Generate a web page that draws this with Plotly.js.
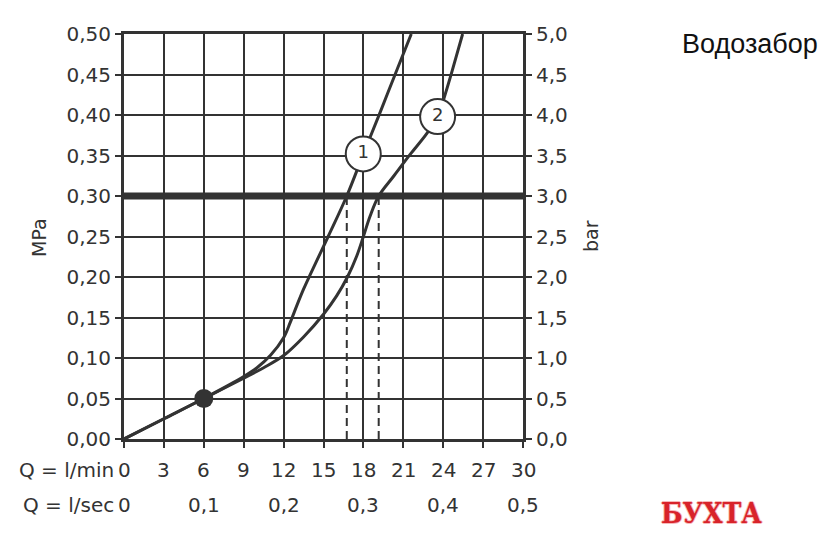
<!DOCTYPE html>
<html>
<head>
<meta charset="utf-8">
<script src="https://cdn.plot.ly/plotly-3.0.1.min.js"></script>
<style>html,body{margin:0;padding:0;background:#fff;}#chart{width:840px;height:546px;}</style>
</head>
<body>
<div id="chart"></div>
<script>
// ---- data ----
const qRange = [0, 30];
const mpaRange = [0, 0.5];
const barRange = [0, 5];
const qMinTicks = [0, 3, 6, 9, 12, 15, 18, 21, 24, 27, 30];
const qMinTickText = ['0', '3', '6', '9', '12', '15', '18', '21', '24', '27', '30'];
const qSecTickPos = [0, 6, 12, 18, 24, 30];
const qSecTickText = ['0', '0,1', '0,2', '0,3', '0,4', '0,5'];
const mpaTicks = [0, 0.05, 0.10, 0.15, 0.20, 0.25, 0.30, 0.35, 0.40, 0.45, 0.50];
const barTicks = [0, 0.5, 1.0, 1.5, 2.0, 2.5, 3.0, 3.5, 4.0, 4.5, 5.0];

// curve 1 (flow l/min, pressure MPa)
const curve1Q = [0, 3, 6, 9, 10, 11, 12, 12.5, 13, 13.5, 14, 15.35, 16.75, 18.0, 19.25, 20.6, 21.6];
const curve1P = [0, 0.025, 0.05, 0.077, 0.088, 0.103, 0.125, 0.144, 0.165, 0.185, 0.203, 0.25, 0.3, 0.352, 0.403, 0.459, 0.5];
// curve 2
const curve2Q = [0, 3, 6, 9, 10.5, 12, 13.5, 15.0, 16.0, 16.8, 17.5, 18.0, 18.5, 19.15, 20.3, 21.5, 22.76, 23.58, 24.14, 24.63, 25.46];
const curve2P = [0, 0.025, 0.05, 0.075, 0.088, 0.103, 0.126, 0.154, 0.177, 0.2, 0.226, 0.25, 0.275, 0.3, 0.325, 0.351, 0.377, 0.398, 0.425, 0.452, 0.5];

// reference pressure line and its crossings
const refPressure = 0.30;
const crossQ = [16.75, 19.15];

// common point
const dotQ = [6];
const dotP = [0.05];

// curve labels
const labelQ = [17.99, 23.58];
const labelP = [0.352, 0.398];
const labelText = ['1', '2'];

const chartTitle = 'Водозабор';
const logoText = 'БУХТА';

// ---- drawing ----
const ink = '#333333';
const font = 'DejaVu Sans, sans-serif';

const traces = [];
traces.push({x: qRange, y: [refPressure, refPressure], mode: 'lines',
  line: {color: ink, width: 7}, hoverinfo: 'skip', showlegend: false});
crossQ.forEach(q => traces.push({x: [q, q], y: [mpaRange[0], refPressure], mode: 'lines',
  line: {color: ink, width: 2, dash: '8px,5px'}, hoverinfo: 'skip', showlegend: false}));
traces.push({x: curve1Q, y: curve1P, mode: 'lines', line: {color: ink, width: 3, shape: 'spline', smoothing: 1}, showlegend: false});
traces.push({x: curve2Q, y: curve2P, mode: 'lines', line: {color: ink, width: 3, shape: 'spline', smoothing: 1}, showlegend: false});
traces.push({x: dotQ, y: dotP, mode: 'markers', marker: {color: ink, size: 19}, showlegend: false});
traces.push({x: labelQ, y: labelP, mode: 'markers+text', text: labelText, textposition: 'middle center',
  textfont: {family: font, size: 18, color: ink},
  marker: {color: '#ffffff', size: 35, line: {color: ink, width: 2}}, showlegend: false});
// dummy trace for right axis
traces.push({x: [qRange[0]], y: [barRange[0]], yaxis: 'y2', mode: 'markers', marker: {opacity: 0}, hoverinfo: 'skip', showlegend: false});

const L = 124, R = 523, T = 34, B = 439;
const px = v => (v - L) / (R - L);
const py = v => (B - v) / (B - T);

const annotations = [];
qMinTicks.forEach((q, i) => annotations.push({x: q, xref: 'x', y: py(470), yref: 'paper',
  text: qMinTickText[i], showarrow: false, xanchor: 'center', yanchor: 'middle',
  font: {family: font, size: 20, color: ink}}));
qSecTickPos.forEach((q, i) => annotations.push({x: q, xref: 'x', y: py(505), yref: 'paper',
  text: qSecTickText[i], showarrow: false, xanchor: 'center', yanchor: 'middle',
  font: {family: font, size: 20, color: ink}}));
annotations.push({x: px(116), xref: 'paper', y: py(470), yref: 'paper', text: 'Q = l/min',
  showarrow: false, xanchor: 'right', yanchor: 'middle', font: {family: font, size: 20, color: ink}});
annotations.push({x: px(116), xref: 'paper', y: py(505), yref: 'paper', text: 'Q = l/sec',
  showarrow: false, xanchor: 'right', yanchor: 'middle', font: {family: font, size: 20, color: ink}});
annotations.push({x: px(39), xref: 'paper', y: py(238), yref: 'paper', text: 'MPa', textangle: -90,
  showarrow: false, xanchor: 'center', yanchor: 'middle', font: {family: font, size: 19, color: ink}});
annotations.push({x: px(591), xref: 'paper', y: py(236), yref: 'paper', text: 'bar', textangle: -90,
  showarrow: false, xanchor: 'center', yanchor: 'middle', font: {family: font, size: 19, color: ink}});
annotations.push({x: px(680), xref: 'paper', y: py(44), yref: 'paper', text: chartTitle,
  showarrow: false, xanchor: 'left', yanchor: 'middle', font: {family: 'Liberation Sans, Arial, sans-serif', size: 27, color: '#111'}});
annotations.push({x: px(711), xref: 'paper', y: py(513), yref: 'paper', text: logoText,
  showarrow: false, xanchor: 'center', yanchor: 'middle',
  font: {family: 'DejaVu Serif Condensed, DejaVu Serif, serif', size: 28, color: '#d8232a', weight: 700,
    shadow: '1px 0 0 #f6b8b8, -1px 0 0 #f6b8b8, 0 1px 0 #f6b8b8, 0 -1px 0 #f6b8b8'}});

const layout = {
  width: 840, height: 546,
  margin: {l: L, r: 840 - R, t: T, b: 546 - B, pad: 0},
  paper_bgcolor: '#ffffff', plot_bgcolor: '#ffffff',
  separators: ', ',
  showlegend: false,
  xaxis: {range: qRange, tickvals: qMinTicks, showticklabels: false, ticks: 'outside', ticklen: 6,
    tickwidth: 2, tickcolor: ink, showgrid: true, gridcolor: ink, gridwidth: 2, zeroline: false,
    showline: true, linecolor: ink, linewidth: 3, mirror: true, fixedrange: true},
  yaxis: {range: mpaRange, tickvals: mpaTicks, tickformat: '.2f', ticks: 'outside', ticklen: 6,
    tickwidth: 2, tickcolor: ink, showgrid: true, gridcolor: ink, gridwidth: 2, zeroline: false,
    showline: true, linecolor: ink, linewidth: 3, mirror: true, fixedrange: true,
    tickfont: {family: font, size: 20, color: ink}},
  yaxis2: {range: barRange, tickvals: barTicks, tickformat: '.1f', overlaying: 'y', side: 'right',
    ticks: 'outside', ticklen: 6, tickwidth: 2, tickcolor: ink, showgrid: false, zeroline: false,
    showline: true, linecolor: ink, linewidth: 3, fixedrange: true,
    tickfont: {family: font, size: 20, color: ink}},
  annotations: annotations
};

Plotly.newPlot('chart', traces, layout, {staticPlot: true, displayModeBar: false});
</script>
</body>
</html>
